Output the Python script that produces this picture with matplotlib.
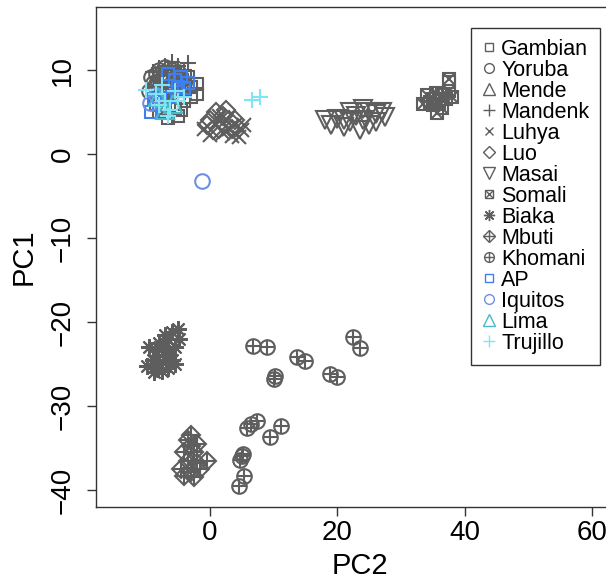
import matplotlib
matplotlib.use("Agg")
import matplotlib.pyplot as plt

plt.rcParams['font.family'] = ['Liberation Sans', 'DejaVu Sans']

GRAY = "#5e5e5e"

# PCA coordinates: (PC2, PC1)
gambian = [(-2, 8.3), (-2, 7.2), (-3, 8), (-4, 7.5), (-5, 7), (-6, 6), (-7, 5.5), (-8, 5),
           (-5, 4.5), (-6.5, 4.3), (-4, 6.3), (-3, 6.8), (-7.5, 6.5), (-5.5, 5.5), (-8.5, 6),
           (-4.5, 5.2), (-3.5, 9.2), (37.5, 8.6)]
yoruba = [(-9, 8.5), (-8.5, 9.5), (-8, 10), (-7.5, 9), (-7, 10.3), (-6.5, 9.5), (-6, 10),
          (-5.5, 9), (-5, 9.8), (-7, 8), (-8, 7.5), (-6, 8.5), (-4.5, 9), (-9.5, 7.5),
          (-8.5, 8), (-5, 8.3), (-6.5, 7.2), (-4, 8.5), (-9.2, 9.2), (-7.8, 8.8)]
mende = [(-8, 8.5), (-7, 9), (-6, 9), (-5, 9.5), (-7.5, 7.5), (-6, 7.8), (-5.5, 8.5),
         (-8.5, 9), (-4.5, 8.5), (-6.5, 8.2)]
mandenk = [(-3.5, 10.8), (-4, 10), (-5, 10.5), (-6, 11), (-7, 10.5), (-8, 10.2), (-3, 9),
           (-4.5, 9.5), (-9, 9.8), (-5.5, 9.5), (-6.5, 10)]
luhya = [(1, 3.5), (2, 2.5), (3, 3), (4, 3.5), (5, 2.8), (4.5, 2), (2.5, 4), (0, 2.3),
         (1.5, 4.5), (3.5, 2.2), (-1, 3), (5.3, 3.5)]
luo = [(0, 4), (1, 5), (2, 4.5), (3, 4), (1.5, 3), (0.5, 2.8), (2.5, 5.2), (3.5, 3),
       (-0.5, 3.5), (4, 4)]
masai = [(18, 4), (19, 3.5), (20, 4.2), (21, 4), (22, 5), (23, 4.5), (24, 5.3), (25, 5),
         (26, 4.8), (27, 5), (24, 4), (25, 3.5), (22, 3.8), (26, 3.8), (23.5, 2.8),
         (21, 3.2), (27.5, 4.4)]
somali = [(33.5, 6), (34, 7), (35, 6.5), (35.5, 7.3), (36, 6), (36.5, 7), (37, 6.5),
          (37.5, 7.5), (37.6, 8.9), (36.5, 5.5), (35.6, 4.9), (34.5, 6.2), (38, 6.8), (35, 5.8)]
biaka = [(-5, -20.8), (-6, -21.2), (-4.8, -22), (-6.5, -22), (-5.5, -23), (-7.5, -22.8),
         (-7, -24), (-8.5, -23.5), (-6, -24.5), (-8, -25), (-9, -24.5), (-7.5, -25.8),
         (-8.8, -26), (-6.5, -23.5), (-9.5, -23), (-5.5, -25), (-7, -21.5), (-8, -22.5),
         (-6.5, -25.5), (-9.8, -25.2)]
mbuti = [(-3.5, -34), (-3, -34.8), (-4, -35.5), (-2.5, -35.5), (-3.5, -36.5), (-2, -36.8),
         (-0.5, -36.5), (-4.5, -37.5), (-3, -37.8), (-1.5, -37.5), (-4, -38.3),
         (-2.5, -38.5), (-3, -33.5), (-2, -34.5)]
khomani = [(6.7, -22.9), (8.9, -23.0), (22.5, -21.8), (23.5, -23.1), (13.7, -24.2),
           (15.0, -24.6), (10.2, -26.4), (10.0, -26.8), (18.8, -26.2), (20.0, -26.6),
           (11.2, -32.4), (9.5, -33.7), (7.4, -31.8), (6.5, -32.1), (5.8, -32.6),
           (5.2, -35.7), (4.8, -36.4), (5.0, -36.0), (5.3, -38.3), (4.6, -39.5)]
ap = [(-6.5, 9.5), (-5.5, 8.8), (-4.5, 9.2), (-3.5, 8.5), (-4, 7.8), (-5, 8), (-9.2, 5),
      (-8, 5.8), (-7, 6.5), (-6, 6.8), (-8.8, 6.5), (-7.5, 5.2)]
iquitos = [(-9.4, 6.1), (-8.5, 7.0), (-1.3, -3.2)]
lima = [(-8.2, 6.8), (-5.8, 6.0), (-7, 5.2)]
trujillo = [(-10, 7.6), (-8.5, 7.2), (-7, 6.3), (-6.2, 5.2), (-5, 6.3), (-4, 6.8),
            (-7.5, 8.2), (-6.5, 4.5), (-8, 5.8), (-5.5, 7.5), (6.6, 6.4), (7.8, 6.8)]

# name, points, list of (marker, size factor), colour
groups = [
    ("Gambian", gambian, [("s", 0.85)], GRAY),
    ("Yoruba", yoruba, [("o", 1.0)], GRAY),
    ("Mende", mende, [("^", 1.25)], GRAY),
    ("Mandenk", mandenk, [("+", 1.15)], GRAY),
    ("Luhya", luhya, [("x", 0.9)], GRAY),
    ("Luo", luo, [("D", 0.85)], GRAY),
    ("Masai", masai, [("v", 1.3)], GRAY),
    ("Somali", somali, [("s", 0.85), ("x", 0.85)], GRAY),
    ("Biaka", biaka, [((8, 2, 0), 1.15)], GRAY),
    ("Mbuti", mbuti, [("D", 0.85), ("+", 1.2)], GRAY),
    ("Khomani", khomani, [("o", 1.0), ("+", 1.0)], GRAY),
    ("AP", ap, [("s", 0.85)], "#3d7ff0"),
    ("Iquitos", iquitos, [("o", 1.0)], "#6f8fe0"),
    ("Lima", lima, [("^", 1.25)], "#4db8c8"),
    ("Trujillo", trujillo, [("+", 1.15)], "#80e4f4"),
]

fig = plt.figure(figsize=(6.06, 5.8), dpi=100)
ax = fig.add_axes([96 / 606, 73 / 580, 528 / 606, 500 / 580])

ms = 10.5
handles = []
labels = []
for name, pts, marks, col in groups:
    xs = [p[0] for p in pts]
    ys = [p[1] for p in pts]
    parts = []
    for m, f in marks:
        ax.plot(xs, ys, linestyle="none", marker=m, markersize=ms * f,
                markerfacecolor="none", markeredgecolor=col, markeredgewidth=1.5)
        h, = ax.plot([], [], linestyle="none", marker=m, markersize=7 * f,
                     markerfacecolor="none", markeredgecolor=col, markeredgewidth=1.0)
        parts.append(h)
    handles.append(tuple(parts) if len(parts) > 1 else parts[0])
    labels.append(name)

ax.set_xlim(-17.88, 65.0)
ax.set_ylim(-42.02, 17.5)
ax.set_xticks([0, 20, 40, 60])
ax.set_yticks([-40, -30, -20, -10, 0, 10])
ax.tick_params(axis="both", labelsize=20, length=6.5, width=1, color="#333333")
ax.tick_params(axis="x", pad=3)
ax.tick_params(axis="y", pad=8)
for lab in ax.get_yticklabels():
    lab.set_rotation(90)
    lab.set_va("center")
for sp in ax.spines.values():
    sp.set_color("#333333")
    sp.set_linewidth(1)

ax.set_xlabel("PC2", fontsize=21, labelpad=4)
ax.set_ylabel("PC1", fontsize=21, labelpad=9)

leg = ax.legend(handles, labels, loc="upper left",
                bbox_to_anchor=(471 / 606, 1 - 28 / 580), bbox_transform=fig.transFigure,
                borderaxespad=0, fontsize=15.5, labelspacing=0.0, handlelength=0.7,
                handletextpad=0.2, borderpad=0.5, fancybox=False, framealpha=1)
leg.get_frame().set_edgecolor("#333333")
leg.get_frame().set_linewidth(1)

fig.savefig("out.png", dpi=100)
